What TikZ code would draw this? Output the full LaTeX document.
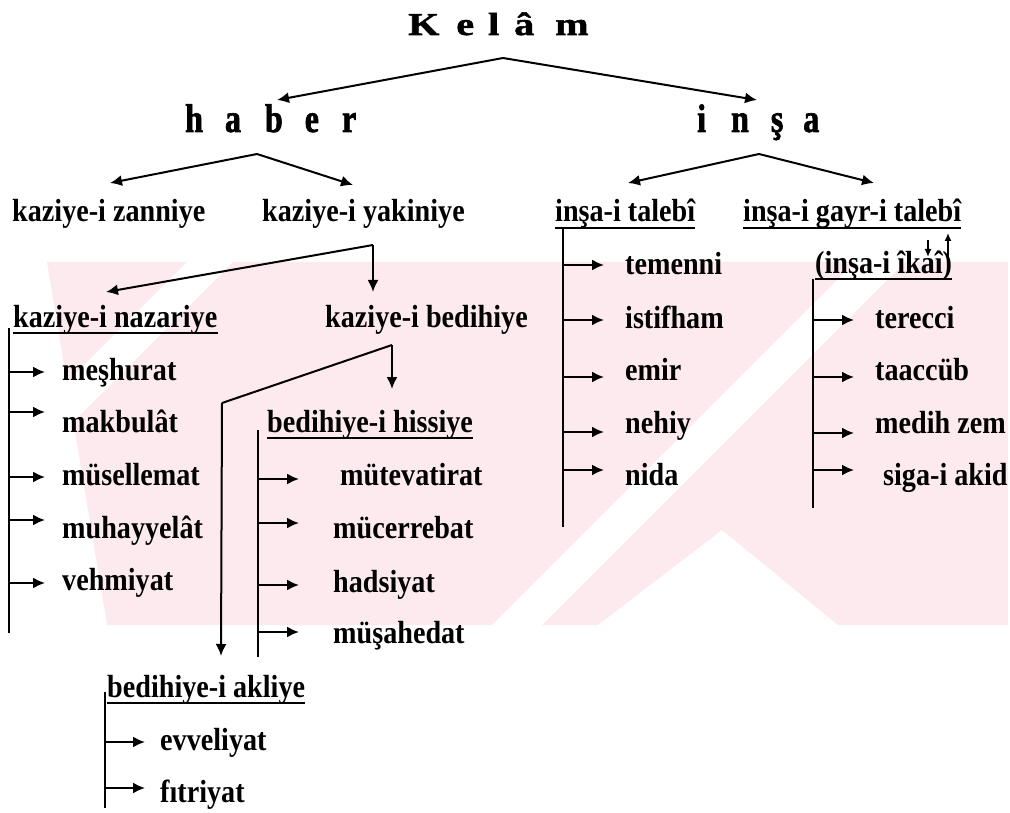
\documentclass[tikz,border=0pt]{standalone}
\usepackage{fontspec}
\setmainfont{Liberation Serif}
\newfontfamily\bodyf{Liberation Serif}[FakeStretch=0.88]
\newfontfamily\titlef{Liberation Serif}[FakeStretch=1.25,FakeBold=1.6]
\newfontfamily\headf{Liberation Serif}[FakeStretch=0.8,FakeBold=1.6]
\usetikzlibrary{arrows.meta}
\definecolor{wm}{RGB}{253,234,238}
\newcommand\leaf[7]{%
  \node[lbl] (#1) at (#5,#6) {#7};
  \coordinate (#1s) at (#2,#4);
  \coordinate (#1t) at (#3,#4);
  \draw[arr] (#1s) -- (#1t);}
\newcommand\uline[1]{\draw[ul] ([yshift=-6pt]#1.base west) -- ([yshift=-6pt]#1.base east);}
\begin{document}
\begin{tikzpicture}[x=1pt,y=-1pt,
  lbl/.style={anchor=base west,inner sep=0pt,font=\bodyf\bfseries\fontsize{32}{36}\selectfont},
  titl/.style={anchor=base west,inner sep=0pt,font=\titlef\bfseries\fontsize{32}{36}\selectfont},
  head/.style={anchor=base west,inner sep=0pt,font=\headf\bfseries\fontsize{40}{44}\selectfont},
  arr/.style={-{Latex[length=12pt,width=11pt]},line width=2pt},
  sarr/.style={-{Latex[length=8pt,width=7pt]},line width=1.5pt},
  ln/.style={line width=2pt},
  ul/.style={line width=1.6pt}]
\useasboundingbox (0,0) rectangle (1010,813);
% watermark
\fill[wm] (47,262) -- (1008,262) -- (1008,625) -- (838,625) -- (722,530) -- (598,625) -- (107,625) -- cycle;
\fill[white] (187,262) -- (233,262) -- (0,495) -- (0,449) -- cycle;
\fill[white] (855,262) -- (905,262) -- (542,625) -- (492,625) -- cycle;
% level 0 and 1
\node[titl] (kelam) at (408,35) {K\hspace{17pt}e\hspace{14pt}l\hspace{15pt}â\hspace{21pt}m};
\node[head] (haber) at (185,132) {h\hspace{22pt}a\hspace{24pt}b\hspace{22pt}e\hspace{23pt}r};
\node[head] (insa) at (697,132) {i\hspace{25pt}n\hspace{22pt}ş\hspace{20pt}a};
\coordinate (kf) at (503,58); \coordinate (kl) at (277,100); \coordinate (kr) at (757,100);
\draw[arr] (kf) -- (kl); \draw[arr] (kf) -- (kr);
\coordinate (hf) at (257,154); \coordinate (hl) at (110,183); \coordinate (hr) at (353,185);
\draw[arr] (hf) -- (hl); \draw[arr] (hf) -- (hr);
\coordinate (if) at (759,154); \coordinate (il) at (628,183); \coordinate (ir) at (874,183);
\draw[arr] (if) -- (il); \draw[arr] (if) -- (ir);
% level 2
\node[lbl] (zanniye) at (12,222) {kaziye-i zanniye};
\node[lbl] (yakiniye) at (262,222) {kaziye-i yakiniye};
\node[lbl] (talebi) at (555,222) {inşa-i talebî};
\node[lbl] (gayr) at (743,222) {inşa-i gayr-i talebî};
\uline{talebi} \uline{gayr}
% yakiniye split
\coordinate (ykf) at (373,245); \coordinate (ykl) at (106,292); \coordinate (ykd) at (373,292);
\draw[arr] (ykf) -- (ykl); \draw[arr] (ykf) -- (ykd);
\node[lbl] (nazariye) at (13,327) {kaziye-i nazariye};
\node[lbl] (bedihiye) at (325,327) {kaziye-i bedihiye};
\uline{nazariye}
\coordinate (nz0) at (9,328); \coordinate (nz1) at (9,633);
\draw[ln] (nz0) -- (nz1);
\leaf{meshurat}{9}{45}{372}{62}{380}{meşhurat}
\leaf{makbulat}{9}{45}{412}{62}{432}{makbulât}
\leaf{musellemat}{9}{45}{477}{62}{485}{müsellemat}
\leaf{muhayyelat}{9}{45}{520}{62}{538}{muhayyelât}
\leaf{vehmiyat}{9}{45}{583}{62}{590}{vehmiyat}
% bedihiye split
\coordinate (bdf) at (392,345); \coordinate (bdk) at (222,403); \coordinate (bdl) at (221,656); \coordinate (bdd) at (392,389);
\draw[ln] (bdf) -- (bdk); \draw[arr] (bdk) -- (bdl); \draw[arr] (bdf) -- (bdd);
\node[lbl] (hissiye) at (267,432) {bedihiye-i hissiye};
\uline{hissiye}
\coordinate (hs0) at (258,430); \coordinate (hs1) at (258,657);
\draw[ln] (hs0) -- (hs1);
\leaf{mutevatirat}{258}{299}{479}{340}{485}{mütevatirat}
\leaf{mucerrebat}{258}{299}{523}{333}{538}{mücerrebat}
\leaf{hadsiyat}{258}{299}{585}{333}{592}{hadsiyat}
\leaf{musahedat}{258}{299}{632}{333}{643}{müşahedat}
\node[lbl] (akliye) at (107,697) {bedihiye-i akliye};
\uline{akliye}
\coordinate (ak0) at (105,692); \coordinate (ak1) at (105,808);
\draw[ln] (ak0) -- (ak1);
\leaf{evveliyat}{105}{145}{742}{160}{750}{evveliyat}
\leaf{fitriyat}{105}{145}{788}{160}{802}{fıtriyat}
% insa-i talebi
\coordinate (tb0) at (563,229); \coordinate (tb1) at (563,527);
\draw[ln] (tb0) -- (tb1);
\leaf{temenni}{563}{604}{265}{625}{275}{temenni}
\leaf{istifham}{563}{604}{320}{625}{328}{istifham}
\leaf{emir}{563}{604}{377}{625}{380}{emir}
\leaf{nehiy}{563}{604}{432}{625}{433}{nehiy}
\leaf{nida}{563}{604}{470}{625}{485}{nida}
% insa-i gayr-i talebi
\coordinate (g1a) at (928,240); \coordinate (g1b) at (928,257);
\coordinate (g2a) at (948,257); \coordinate (g2b) at (948,233);
\draw[sarr] (g1a) -- (g1b); \draw[sarr] (g2a) -- (g2b);
\node[lbl] (ikai) at (815,273) {(inşa-i îkaî)};
\uline{ikai}
\coordinate (ik0) at (813,279); \coordinate (ik1) at (813,508);
\draw[ln] (ik0) -- (ik1);
\leaf{terecci}{813}{854}{320}{875}{328}{terecci}
\leaf{taaccub}{813}{854}{377}{875}{380}{taaccüb}
\leaf{medih}{813}{854}{433}{875}{433}{medih zem}
\leaf{siga}{813}{854}{470}{883}{485}{siga-i akid}
\end{tikzpicture}
\end{document}
